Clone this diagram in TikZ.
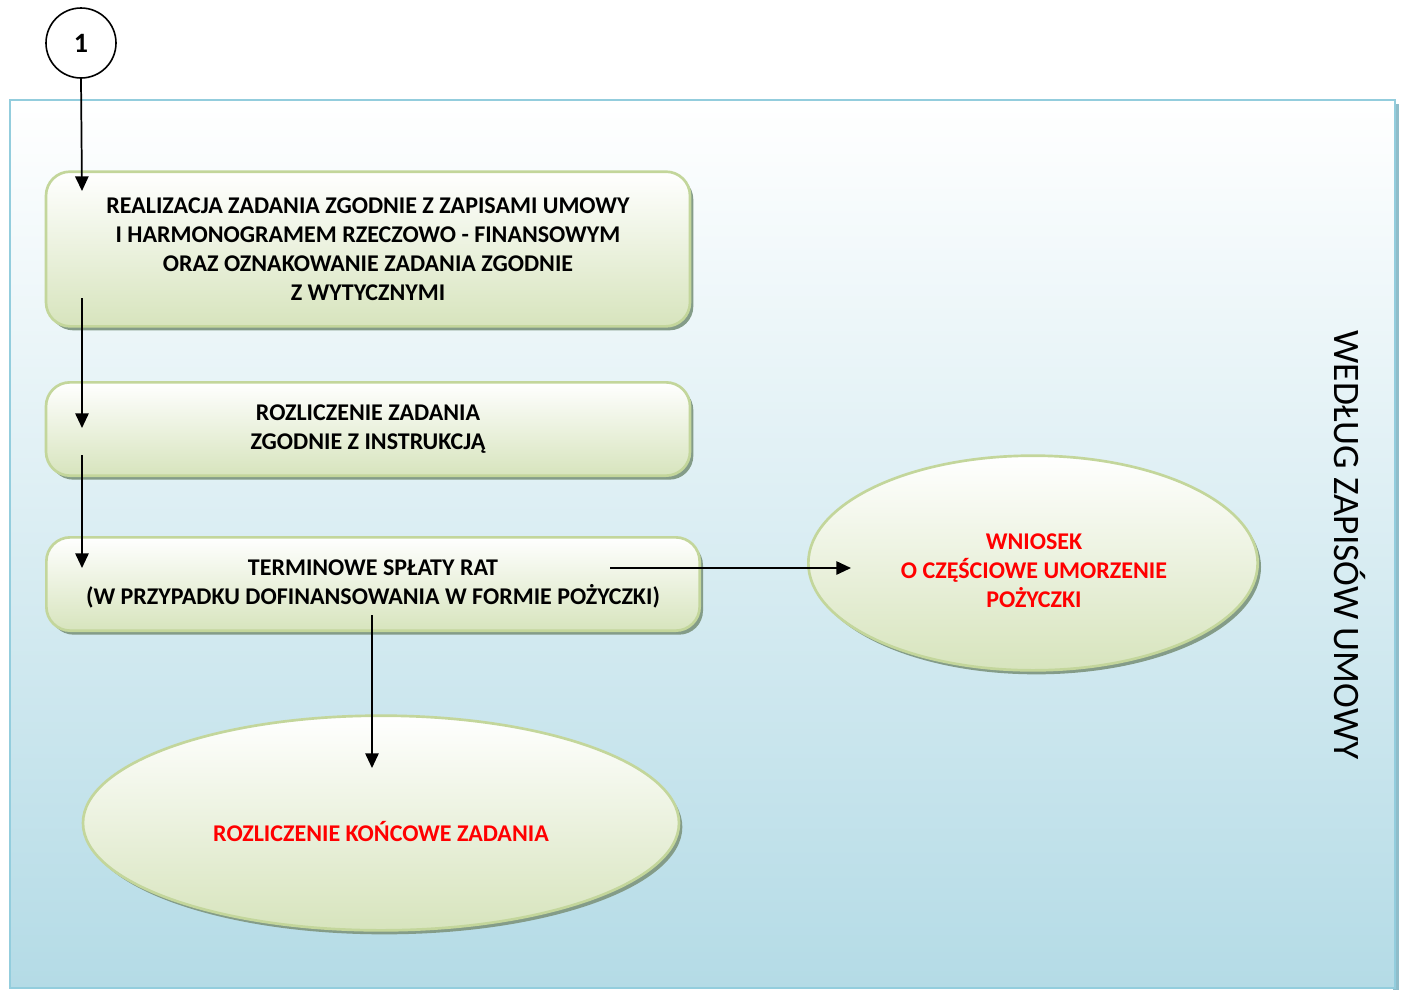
\documentclass[tikz,border=0pt]{standalone}
\usepackage{fontspec}
\setmainfont{Carlito}
\usetikzlibrary{arrows.meta,shapes.geometric}
\definecolor{bgtop}{HTML}{FFFFFF}
\definecolor{bgbot}{HTML}{B4DBE6}
\definecolor{bgline}{HTML}{93CDDD}
\definecolor{gtop}{HTML}{FFFFFF}
\definecolor{gbot}{HTML}{D7E4BD}
\definecolor{gline}{HTML}{C3D69B}
\definecolor{gshadow}{HTML}{849C88}
\definecolor{redtxt}{HTML}{FF0000}
\tikzset{
  x=0.75pt, y=-0.75pt,
  greenbox/.style={rectangle, rounded corners=18pt, draw=gline, line width=2pt,
    top color=gtop, bottom color=gbot, align=center, inner sep=0pt,
    font=\fontsize{18}{21.75}\selectfont\bfseries,
    preaction={fill=gshadow, transform canvas={shift={(2.5pt,-3pt)}}}},
  greenell/.style={ellipse, draw=gline, line width=2pt, inner sep=0pt,
    top color=gtop, bottom color=gbot,
    preaction={fill=gshadow, transform canvas={shift={(2.5pt,-3pt)}}}},
  redlabel/.style={align=center, text=redtxt, font=\fontsize{18}{21.75}\selectfont\bfseries},
  flow/.style={line width=1.3pt, -{Triangle[length=11pt,width=10pt]}},
}
\begin{document}
\begin{tikzpicture}
\useasboundingbox (0,0) rectangle (1403,990);
% background frame
\fill[bgline!80!gray] (1393,104) rectangle (1399,990);
\path[draw=bgline, line width=2pt, top color=bgtop, bottom color=bgbot] (10,100) rectangle (1395,988);
\node[font=\fontsize{28}{30}\selectfont, rotate=-90] (side) at (1350,545) {WEDŁUG ZAPISÓW UMOWY};
% start circle
\node[circle, draw=black, line width=1.2pt, minimum size=52.5pt, fill=white, inner sep=0pt,
  font=\fontsize{21}{24}\selectfont\bfseries] (start) at (81,43) {\raisebox{-2pt}{1}};
% boxes
\node[greenbox, minimum width=483pt, minimum height=116pt] (b1) at (368,249)
 {REALIZACJA ZADANIA ZGODNIE Z ZAPISAMI UMOWY\\I HARMONOGRAMEM RZECZOWO - FINANSOWYM\\ORAZ OZNAKOWANIE ZADANIA ZGODNIE\\Z WYTYCZNYMI};
\node[greenbox, minimum width=483pt, minimum height=70pt] (b2) at (368,429)
 {ROZLICZENIE ZADANIA\\ZGODNIE Z INSTRUKCJĄ};
\node[greenbox, minimum width=490pt, minimum height=70pt] (b3) at (373,584)
 {TERMINOWE SPŁATY RAT\\(W PRZYPADKU DOFINANSOWANIA W FORMIE POŻYCZKI)};
% ellipses
\node[greenell, minimum width=337pt, minimum height=161pt] (e1) at (1033,563) {};
\node[redlabel] (e1t) at (1034,571) {WNIOSEK\\O CZĘŚCIOWE UMORZENIE\\POŻYCZKI};
\node[greenell, minimum width=447pt, minimum height=161pt] (e2) at (381,823) {};
\node[redlabel] (e2t) at (381,831) {ROZLICZENIE KOŃCOWE ZADANIA};
% arrow end points
\coordinate (a1e) at (82,191);
\coordinate (a2s) at (82,298);
\coordinate (a2e) at (82,428);
\coordinate (a3s) at (82,455);
\coordinate (a3e) at (82,568);
\coordinate (a4s) at (610,568);
\coordinate (a4e) at (851,568);
\coordinate (a5s) at (372,615);
\coordinate (a5e) at (372,768);
\draw[flow] (start.south) -- (a1e);
\draw[flow] (a2s) -- (a2e);
\draw[flow] (a3s) -- (a3e);
\draw[flow] (a4s) -- (a4e);
\draw[flow] (a5s) -- (a5e);
\end{tikzpicture}
\end{document}
